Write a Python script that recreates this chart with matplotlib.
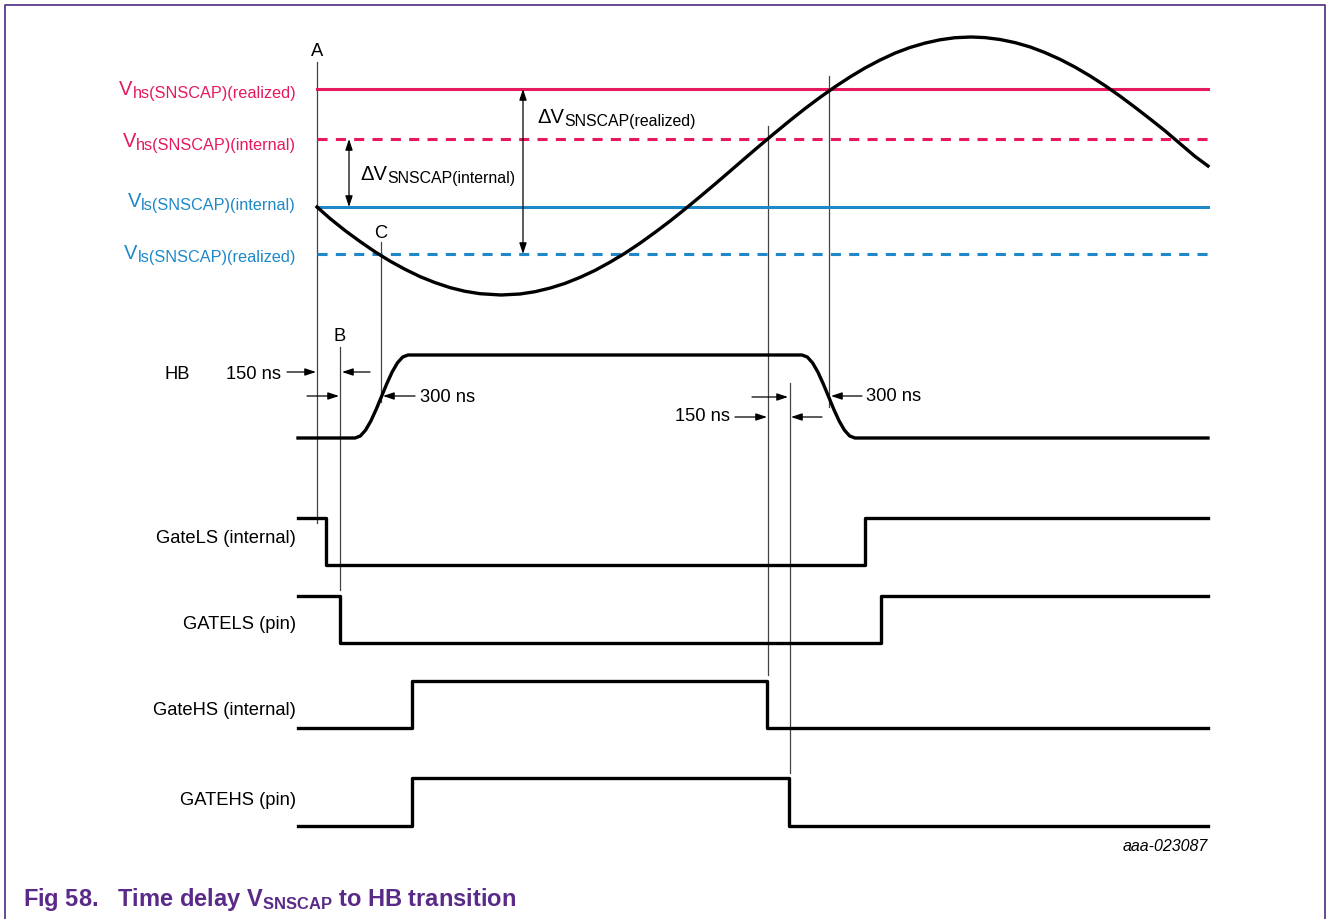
import matplotlib
matplotlib.use('Agg')
import matplotlib.pyplot as plt

plt.rcParams['font.family'] = ['Liberation Sans', 'DejaVu Sans']
plt.rcParams['mathtext.fontset'] = 'custom'
plt.rcParams['mathtext.rm'] = 'Liberation Sans'
plt.rcParams['mathtext.it'] = 'Liberation Sans:italic'
plt.rcParams['mathtext.bf'] = 'Liberation Sans:bold'

# diagram units: x = time axis, y = vertical position (top = 0)
t_start, t_end = 298, 1208
t_lvl0 = 317

# comparator levels
level_subs = ['hs(SNSCAP)(realized)', 'hs(SNSCAP)(internal)',
              'ls(SNSCAP)(internal)', 'ls(SNSCAP)(realized)']
level_y = [89, 139, 207, 254]
level_label_y = [95, 147, 207, 259]
level_dashed = [False, True, False, True]
level_colors = ['#E5195B', '#E5195B', '#1E88C9', '#1E88C9']

# V_SNSCAP waveform
sine_t = [317, 330, 345, 360, 375, 390, 405, 420, 435, 450, 465, 480, 501, 520,
          535, 550, 565, 580, 595, 610, 625, 640, 655, 670, 685, 700, 715, 730,
          745, 760, 775, 790, 805, 820, 835, 850, 865, 880, 895, 910, 925, 940,
          955, 971, 985, 1000, 1015, 1030, 1045, 1060, 1075, 1090, 1105, 1120,
          1135, 1150, 1165, 1180, 1195, 1208]
sine_v = [207, 218.5, 230.5, 241.5, 251.8, 261.1, 269.3, 276.6, 282.6, 287.6,
          291.3, 293.7, 295, 294, 291.7, 288.1, 283.4, 277.4, 270.4, 262.2,
          253.2, 243.2, 232.4, 221.1, 209.1, 196.7, 184.1, 171.2, 158.2, 145.4,
          132.8, 120.5, 108.6, 97.4, 86.8, 77, 68, 60.1, 53.1, 47.5, 43.1, 39.8,
          37.7, 37, 37.6, 39.5, 42.6, 46.9, 52.6, 59.3, 67.1, 75.9, 85.6, 96.1,
          107.3, 118.9, 130.8, 143.6, 156.4, 166]

# HB node
hb_t = [298, 355, 360.3, 365.6, 370.9, 376.2, 381.5, 386.8, 392.1, 397.4, 402.7, 408,
        802, 807.3, 812.6, 817.9, 823.2, 828.5, 833.8, 839.1, 844.4, 849.7, 855, 1208]
hb_v = [438, 438, 436, 430.1, 420.9, 409.3, 396.5, 383.7, 372.1, 362.9, 357, 355,
        355, 357, 362.9, 372.1, 383.7, 396.5, 409.3, 420.9, 430.1, 436, 438, 438]

# gate signals: label, high y, low y, start level, edge times
gate_labels = ['GateLS (internal)', 'GATELS (pin)', 'GateHS (internal)', 'GATEHS (pin)']
gate_label_y = [543, 629, 715, 805]
gate_high = [518, 596, 681, 778]
gate_low = [565, 643, 728, 826]
gate_start_high = [True, True, False, False]
gate_edges = [[326, 865], [340, 881], [412, 767], [412, 789]]

# vertical timing markers: x, top, bottom
marker_x = [317, 340, 381, 768, 790, 829]
marker_top = [62, 347, 242, 126, 383, 76]
marker_bot = [523, 590, 402, 675, 773, 407]

FS = 13.2

fig = plt.figure(figsize=(13.28, 9.19), dpi=100)
ax = fig.add_axes([0, 0, 1, 1])
ax.set_xlim(0, 1328)
ax.set_ylim(919, 0)
ax.axis('off')
rend = fig.canvas.get_renderer()

def right_x(t):
    bb = t.get_window_extent(rend)
    return ax.transData.inverted().transform((bb.x1, bb.y0))[0]

def left_x(t):
    bb = t.get_window_extent(rend)
    return ax.transData.inverted().transform((bb.x0, bb.y0))[0]

# frame
ax.plot([5, 5, 1325, 1325], [925, 5, 5, 925], color='#4B2A82', lw=1.2)

for x, y0, y1 in zip(marker_x, marker_top, marker_bot):
    ax.plot([x, x], [y0, y1], color='#444444', lw=0.9)

for sub, y, ly, dsh, c in zip(level_subs, level_y, level_label_y, level_dashed, level_colors):
    ls = (0, (3.3, 2.7)) if dsh else '-'
    ax.plot([t_lvl0, t_end], [y, y], color=c, lw=2.2, ls=ls)
    ts = ax.text(296, ly + 3, sub, color=c, fontsize=11.7, ha='right', va='baseline')
    ax.text(left_x(ts), ly, 'V', color=c, fontsize=14.5, ha='right', va='baseline')

ax.plot(sine_t, sine_v, color='black', lw=2.4)
ax.plot(hb_t, hb_v, color='black', lw=2.4)

for lab, ly, hi, lo, st, edges in zip(gate_labels, gate_label_y, gate_high, gate_low,
                                      gate_start_high, gate_edges):
    xs, ys = [t_start], []
    state = st
    ys.append(hi if state else lo)
    for e in edges:
        xs += [e, e]
        ys += [hi if state else lo]
        state = not state
        ys += [hi if state else lo]
    xs.append(t_end)
    ys.append(hi if state else lo)
    ax.plot(xs, ys, color='black', lw=2.4)
    ax.text(296, ly, lab, fontsize=FS, ha='right', va='baseline')

ax.text(164, 379, 'HB', fontsize=FS, va='baseline')
for s, x, y in zip(['A', 'B', 'C'], [317, 340, 381], [56, 341, 238]):
    ax.text(x, y, s, fontsize=FS, ha='center', va='baseline')

aprops = dict(arrowstyle='-|>,head_length=0.6,head_width=0.2', color='black', lw=0.9,
              shrinkA=0, shrinkB=0, mutation_scale=11)
dprops = dict(arrowstyle='<|-|>,head_length=0.6,head_width=0.2', color='black', lw=0.9,
              shrinkA=0, shrinkB=0, mutation_scale=11)

def arrow(x0, x1, y):
    ax.annotate('', xy=(x1, y), xytext=(x0, y), arrowprops=aprops)

arrow(287, 316, 372)
arrow(370, 342, 372)
arrow(307, 339, 396)
arrow(415, 383, 396)
arrow(752, 788, 397)
arrow(735, 767, 417)
arrow(822, 791, 417)
arrow(862, 831, 396)

ax.annotate('', xy=(523, 89), xytext=(523, 254), arrowprops=dprops)
ax.annotate('', xy=(349, 139), xytext=(349, 207), arrowprops=dprops)

ax.text(281, 379, '150 ns', fontsize=FS, ha='right', va='baseline')
ax.text(420, 402, '300 ns', fontsize=FS, va='baseline')
ax.text(730, 421, '150 ns', fontsize=FS, ha='right', va='baseline')
ax.text(866, 401, '300 ns', fontsize=FS, va='baseline')

for x, y, sub in [(537, 123, 'SNSCAP(realized)'), (360, 180, 'SNSCAP(internal)')]:
    td = ax.text(x, y, '\u0394V', fontsize=14.5, va='baseline')
    ax.text(right_x(td), y + 3, sub, fontsize=11.4, va='baseline')

ax.text(1208, 851, 'aaa-023087', fontsize=11.5, style='italic', ha='right', va='baseline')
ax.text(23, 906, r'Fig 58.   Time delay $\mathbf{V_{SNSCAP}}$ to HB transition',
        fontsize=17, fontweight='bold', color='#5A2A88', va='baseline')

fig.savefig('out.png', dpi=100)
